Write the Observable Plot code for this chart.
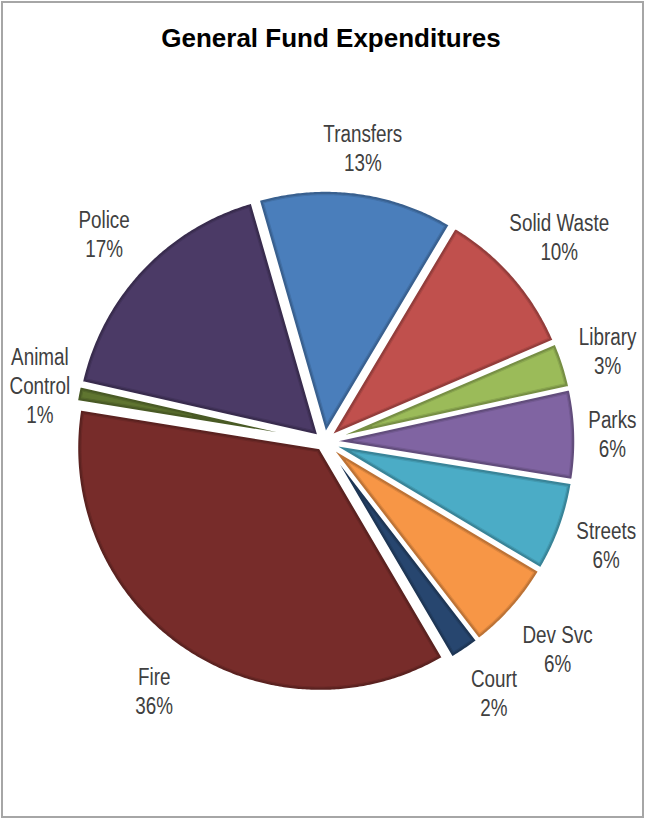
<!DOCTYPE html>
<html>
<head>
<meta charset="utf-8">
<script src="https://cdn.jsdelivr.net/npm/d3@7"></script>
<script src="https://cdn.jsdelivr.net/npm/@observablehq/plot@0.6"></script>
<style>
  body { margin: 0; background: #fff; }
  #frame { position: absolute; left: 1px; top: 1px; width: 643px; height: 817px; box-sizing: border-box; border: 2px solid #a6a6a6; background: #fff; }
  #title { position: absolute; left: 0; top: 20px; width: 639px; padding-left: 17px; box-sizing: border-box; text-align: center; font: bold 26px "Liberation Sans", Arial, sans-serif; line-height: 30px; color: #000; }
  #chart { position: absolute; left: 0; top: 67px; }
</style>
</head>
<body>
<div id="frame">
  <div id="title">General Fund Expenditures</div>
  <div id="chart"></div>
</div>
<script>
// ---- data ----
const categories = ["Transfers", "Solid Waste", "Library", "Parks", "Streets", "Dev Svc", "Court", "Fire", "Animal Control", "Police"];
const shares = [13, 10, 3, 6, 6, 6, 2, 36, 1, 17];
const labelNames = ["Transfers", "Solid Waste", "Library", "Parks", "Streets", "Dev Svc", "Court", "Fire", "Animal\nControl", "Police"];
const colors = ["#4a7ebb", "#c0504d", "#9bbb59", "#8064a2", "#4bacc6", "#f79646", "#27466f", "#772c2a", "#5f7530", "#4b3a66"];

// ---- layout constants ----
const W = 639, H = 745;
const CX = 321, CY = 371;          // pie centre in svg pixels
const R = 243, EXPLODE = 8, START = -16, INSET = 4, PAD = 17, EDGE = 6;
const FS = 23, LH = 1.26, NARROW = 0.82;
const labelFont = '"Liberation Sans", Arial, sans-serif';

const rad = Math.PI / 180;
const total = d3.sum(shares);
const pt = (cx, cy, r, a) => ({x: cx + r * Math.sin(a * rad), y: cy - r * Math.cos(a * rad)});

let acc = 0;
const slices = categories.map((name, i) => {
  const a0 = START + acc / total * 360;
  acc += shares[i];
  const a1 = START + acc / total * 360;
  return {name, share: shares[i], a0, a1, mid: (a0 + a1) / 2, color: colors[i],
          dark: d3.color(colors[i]).darker(0.75).formatHex(),
          edge: d3.color(colors[i]).darker(0.3).formatHex()};
});

const outer = [], inner = [];
for (const s of slices) {
  const c = pt(0, 0, EXPLODE, s.mid);
  const ring = [c];
  for (let a = s.a0; a < s.a1; a += 0.5) ring.push(pt(c.x, c.y, R, a));
  ring.push(pt(c.x, c.y, R, s.a1));
  ring.push(c);
  ring.forEach(p => outer.push({...p, name: s.name, fill: s.dark}));

  const half = (s.a1 - s.a0) / 2;
  const ci = pt(c.x, c.y, INSET / Math.sin(half * rad), s.mid);
  const rho = R - INSET;
  const da = Math.asin(INSET / rho) / rad;
  const b0 = s.a0 + da, b1 = s.a1 - da;
  if (b1 > b0) {
    const ring2 = [ci];
    for (let a = b0; a < b1; a += 0.5) ring2.push(pt(c.x, c.y, rho, a));
    ring2.push(pt(c.x, c.y, rho, b1));
    ring2.push(ci);
    ring2.forEach(p => inner.push({...p, name: s.name, fill: s.color, stroke: s.edge}));
  }
}

// ---- labels (outside end, box-aware, kept inside the frame) ----
const ctx = document.createElement("canvas").getContext("2d");
ctx.font = `${FS}px ${labelFont}`;
const labels = slices.map((s, i) => {
  const text = `${labelNames[i]}\n${s.share}%`;
  const lines = text.split("\n");
  const w = d3.max(lines, l => ctx.measureText(l).width) * NARROW / 2;
  const h = lines.length * FS * LH / 2;
  const sn = Math.abs(Math.sin(s.mid * rad)), cs = Math.abs(Math.cos(s.mid * rad));
  const ext = Math.min(sn > 1e-6 ? w / sn : Infinity, cs > 1e-6 ? h / cs : Infinity);
  const p = pt(0, 0, R + EXPLODE + PAD + ext, s.mid);
  p.x = Math.max(-CX + EDGE + w, Math.min(W - CX - EDGE - w, p.x));
  return {...p, text};
});

const chart = Plot.plot({
  width: W, height: H, margin: 0,
  x: {domain: [-CX, W - CX], range: [0, W], axis: null},
  y: {domain: [-CY, H - CY], range: [0, H], axis: null},
  color: {type: "identity"},
  style: {background: "transparent"},
  marks: [
    Plot.line(outer, {x: "x", y: "y", z: "name", fill: "fill", stroke: "white", strokeWidth: 2.5, strokeLinejoin: "round", curve: "linear"}),
    Plot.line(inner, {x: "x", y: "y", z: "name", fill: "fill", stroke: "stroke", strokeWidth: 1.2, strokeLinejoin: "round", curve: "linear"}),
    Plot.text(labels, {x: "x", y: "y", text: "text", fontSize: FS, lineHeight: LH, fill: "#404040", fontFamily: labelFont})
  ]
});
document.getElementById("chart").appendChild(chart);

// condense the label glyphs horizontally (Arial Narrow look)
chart.querySelectorAll('g[aria-label="text"] text').forEach(t => {
  const x = t.getAttribute("x"), y = t.getAttribute("y");
  let tr = t.getAttribute("transform") || "";
  if (x != null) {
    tr = `translate(${x},${y || 0}) ` + tr;
    t.removeAttribute("x"); t.removeAttribute("y");
    t.querySelectorAll("tspan").forEach(s => { if (s.getAttribute("x") === x) s.setAttribute("x", 0); });
  }
  t.setAttribute("transform", tr + ` scale(${NARROW},1)`);
});
</script>
</body>
</html>
